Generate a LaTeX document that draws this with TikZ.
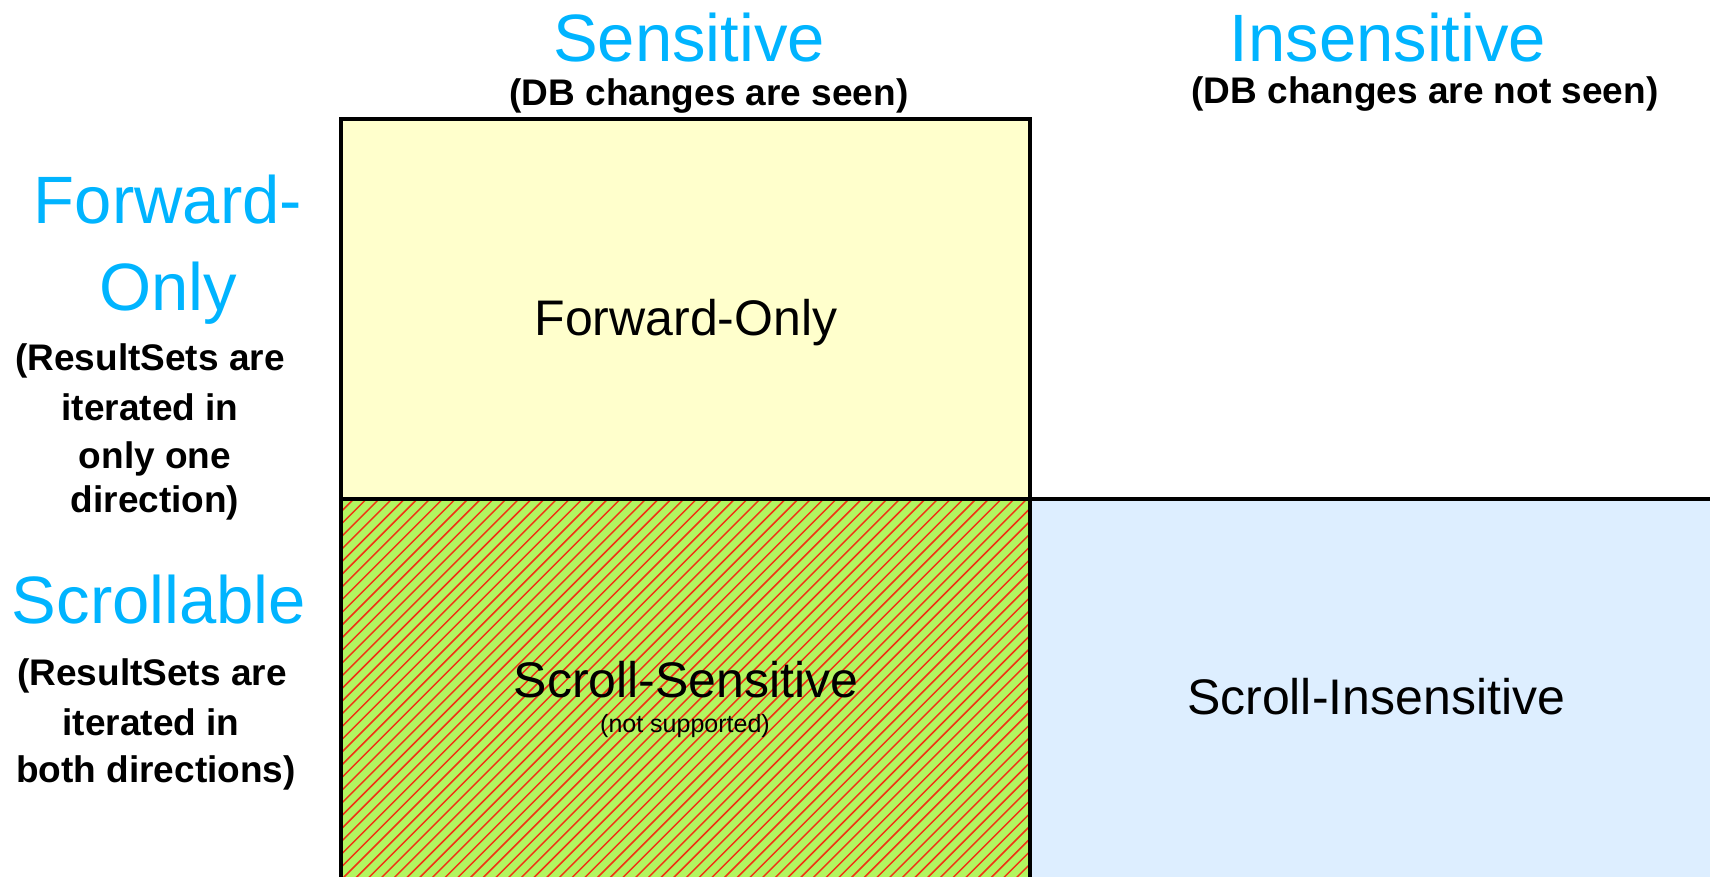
\documentclass[tikz,border=0pt]{standalone}
\usepackage{fontspec}
\setmainfont{Liberation Sans}
\definecolor{headblue}{RGB}{0,180,255}
\definecolor{fwdyellow}{RGB}{255,255,204}
\definecolor{scrollgreen}{RGB}{178,245,96}
\definecolor{hatchred}{RGB}{240,50,20}
\definecolor{insblue}{RGB}{221,238,255}
\tikzset{
  head/.style={anchor=base, inner sep=0pt, text=headblue, font=\fontsize{67bp}{80bp}\selectfont},
  note/.style={anchor=base, inner sep=0pt, font=\fontsize{37bp}{44bp}\selectfont\bfseries},
  celltext/.style={anchor=base, inner sep=0pt, font=\fontsize{50bp}{60bp}\selectfont},
  small/.style={anchor=base, inner sep=0pt, font=\fontsize{25bp}{30bp}\selectfont},
  border/.style={draw=black, line width=3.5bp},
  hatch/.style={draw=hatchred, line width=1.5bp}
}
\begin{document}
\begin{tikzpicture}[x=1bp,y=-1bp]
\useasboundingbox (0,0) rectangle (1710,876);
\clip (0,0) rectangle (1710,876);

% cell fills
\fill[fwdyellow] (341,119) rectangle (1030,499);
\fill[scrollgreen] (341,499) rectangle (1030,880);
\fill[insblue] (1030,499) rectangle (1715,880);

% diagonal hatching of the unsupported cell
\begin{scope}
  \clip (341,499) rectangle (1030,880);
  \foreach \i in {0,...,86}
    \draw[hatch] ({840+12.7*\i-880},880) -- ({840+12.7*\i-499},499);
\end{scope}

% cell borders
\draw[border] (341,880) -- (341,119) -- (1030,119) -- (1030,880);
\draw[border] (341,499) -- (1715,499);

% column headings
\node[head] (sens) at (689,61) {Sensitive};
\node[note] (senssub) at (709,105) {(DB changes are seen)};
\node[head] (insens) at (1388,61) {Insensitive};
\node[note] (insenssub) at (1425,103) {(DB changes are not seen)};

% row headings
\node[head] (fwd1) at (168,223) {Forward-};
\node[head] (fwd2) at (168,310) {Only};
\node[note] (fwdn1) at (150,370) {(ResultSets are};
\node[note] (fwdn2) at (150,420) {iterated in};
\node[note] (fwdn3) at (155,468) {only one};
\node[note] (fwdn4) at (155,512) {direction)};

\node[head] (scr) at (159,623) {Scrollable};
\node[note] (scrn1) at (152,685) {(ResultSets are};
\node[note] (scrn2) at (151,735) {iterated in};
\node[note] (scrn3) at (156,782) {both directions)};

% cell labels
\node[celltext] (cfwd) at (686,335) {Forward-Only};
\node[celltext] (cscs) at (686,697) {Scroll-Sensitive};
\node[small] (cscsn) at (685,732) {(not supported)};
\node[celltext] (csci) at (1376,714) {Scroll-Insensitive};
\end{tikzpicture}
\end{document}
